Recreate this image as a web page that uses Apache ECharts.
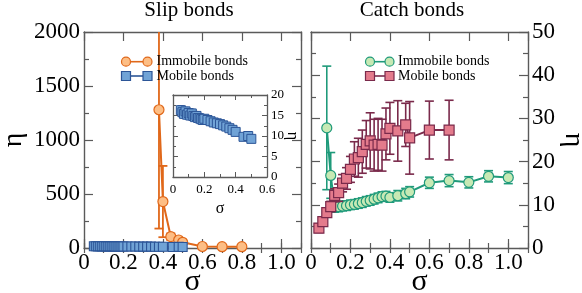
<!DOCTYPE html>
<html><head><meta charset="utf-8">
<script src="https://cdn.jsdelivr.net/npm/echarts@6/dist/echarts.min.js"></script>
<style>html,body{margin:0;padding:0;background:#fff}#c{width:582px;height:293px}</style>
</head><body><div id="c"></div>
<script>
// ---- data ----
const slipImmobileX = [0.38, 0.40, 0.44, 0.48, 0.50, 0.60, 0.70, 0.80];
const slipImmobileY = [1280, 430, 105, 74, 53, 14, 12, 12];
const slipImmobileErr = [1100, 330, 30, 15, 10, 8, 6, 6];

const slipMobileX = [0.05,0.06,0.07,0.08,0.09,0.10,0.11,0.12,0.13,0.14,0.15,0.16,0.17,0.18,0.19,0.20,0.22,0.24,0.26,0.28,0.30,0.32,0.34,0.36,0.38,0.40,0.45,0.48,0.50];
const slipMobileY = [16.3,15.8,15.4,16.0,15.2,15.6,15.0,15.5,14.9,14.6,14.9,14.4,14.3,14.1,13.9,14.2,13.9,13.6,13.3,13.1,12.9,12.6,12.3,11.9,11.5,11.0,9.8,10.0,9.3];
const slipMobileErr = [1.1,1.0,1.0,1.0,1.0,1.0,1.0,1.0,1.0,1.0,1.0,0.9,0.9,0.9,0.9,0.9,0.9,0.9,0.8,0.8,0.8,0.8,0.8,0.8,0.8,0.8,0.7,0.7,0.7];

const catchImmobileX = [0.08,0.10,0.12,0.14,0.16,0.18,0.20,0.22,0.24,0.26,0.28,0.30,0.32,0.34,0.36,0.38,0.40,0.44,0.48,0.50,0.60,0.70,0.80,0.90,1.00];
const catchImmobileY = [27.8,16.8,9.5,9.6,9.7,9.8,10.0,10.1,10.3,10.5,10.8,11.0,11.3,11.6,11.9,12.0,11.7,12.1,12.6,13.0,15.1,15.6,15.2,16.6,16.3];
const catchImmobileErr = [14.3,5.3,1.2,1.2,1.1,1.1,1.1,1.1,1.1,1.1,1.1,1.1,1.1,1.1,1.1,1.1,1.1,1.2,1.2,1.2,1.3,1.4,1.3,1.3,1.4];

const catchMobileX = [0.04,0.06,0.08,0.10,0.12,0.14,0.16,0.18,0.20,0.22,0.24,0.26,0.28,0.30,0.32,0.34,0.36,0.38,0.40,0.44,0.48,0.50,0.60,0.70];
const catchMobileY = [4.6,6.1,8.2,9.6,12.2,12.8,15.0,16.1,18.2,20.6,20.9,22.3,24.0,24.8,23.8,24.0,23.8,26.4,27.7,27.1,28.5,25.5,27.3,27.3];
const catchMobileErr = [1.0,1.0,1.0,1.2,1.5,2.0,2.0,2.5,3.0,4.0,4.5,5.0,5.5,6.5,6.0,6.0,6.0,6.0,6.0,7.0,5.0,8.4,6.7,6.9];

// ---- styles ----
const FONT = 'Liberation Serif';
const FR = '#5a5a5a';
const ORL = '#e0681a', ORF = '#fdbe85';
const BLL = '#2c5597', BLF = '#70a3d6';
const GRL = '#1f9a7a', GRF = '#c7e9b4';
const PKL = '#7a2a4b', PKF = '#e47b8c';

function pairs(x, y) { return x.map((v, i) => [v, y[i]]); }
function errs(x, y, e) { return x.map((v, i) => [v, y[i] - e[i], y[i] + e[i]]); }

function errRender(color, capW, lw) {
  return function (params, api) {
    const x = api.value(0), lo = api.value(1), hi = api.value(2);
    const pLo = api.coord([x, lo]), pHi = api.coord([x, hi]);
    const cs = params.coordSys;
    const top = Math.max(pHi[1], cs.y), bot = Math.min(pLo[1], cs.y + cs.height);
    const ch = [{ type: 'line', shape: { x1: pLo[0], y1: bot, x2: pLo[0], y2: top }, style: { stroke: color, lineWidth: lw } }];
    if (pHi[1] >= cs.y) ch.push({ type: 'line', shape: { x1: pHi[0] - capW / 2, y1: pHi[1], x2: pHi[0] + capW / 2, y2: pHi[1] }, style: { stroke: color, lineWidth: lw } });
    if (pLo[1] <= cs.y + cs.height) ch.push({ type: 'line', shape: { x1: pLo[0] - capW / 2, y1: pLo[1], x2: pLo[0] + capW / 2, y2: pLo[1] }, style: { stroke: color, lineWidth: lw } });
    return { type: 'group', children: ch };
  };
}

function fmtX(v) {
  if (Math.abs(v / 0.2 - Math.round(v / 0.2)) > 1e-6) return '';
  return v === 0 ? '0' : v.toFixed(1);
}

function xMajor(grid, pos, labels) {
  return {
    type: 'value', gridIndex: grid, position: pos, min: 0, max: 1.1, interval: 0.2,
    axisLine: { show: true, onZero: false, lineStyle: { color: FR, width: 1.4 } },
    axisTick: { show: true, inside: true, length: 9, lineStyle: { color: FR, width: 1.2 } },
    minorTick: { show: false },
    splitLine: { show: false },
    axisLabel: { show: labels, formatter: fmtX, color: '#000', fontFamily: FONT, fontSize: 23, margin: 3, showMaxLabel: false },
    name: labels ? 'σ' : '', nameLocation: 'middle', nameGap: 19, nameMoveOverlap: false,
    nameTextStyle: { color: '#000', fontFamily: FONT, fontSize: 30 }
  };
}
function xMinor(grid, pos) {
  return {
    type: 'value', gridIndex: grid, position: pos, min: 0, max: 1.1, interval: 0.1,
    axisLine: { show: false }, axisLabel: { show: false }, splitLine: { show: false },
    axisTick: { show: true, inside: true, length: 5, lineStyle: { color: FR, width: 1.2 } }
  };
}
function yAx(grid, pos, min, max, interval, labels, fs, name, nameGap, nameRot, z, noMove) {
  const big = fs > 15;
  const o = {
    type: 'value', gridIndex: grid, position: pos, min: min, max: max, interval: interval, z: z || 0,
    axisLine: { show: true, onZero: false, lineStyle: { color: FR, width: big ? 1.4 : 1.3 } },
    axisTick: { show: true, inside: true, length: big ? 9 : 5, lineStyle: { color: FR, width: big ? 1.2 : 1 } },
    minorTick: { show: true, splitNumber: 2, length: big ? 5 : 3, lineStyle: { color: FR, width: big ? 1.2 : 1 } },
    splitLine: { show: false },
    axisLabel: { show: labels, color: '#000', fontFamily: FONT, fontSize: fs, margin: 4, formatter: v => String(v) },
    name: labels ? name : '', nameLocation: 'middle', nameGap: nameGap, nameRotate: nameRot,
    nameTextStyle: { color: '#000', fontFamily: FONT, fontSize: big ? 28 : 16 }
  };
  if (noMove) o.nameMoveOverlap = false;
  return o;
}

const insetX = (pos, labels) => ({
  type: 'value', gridIndex: 2, position: pos, min: 0, max: 0.6, interval: 0.2, z: 4,
  axisLine: { show: true, onZero: false, lineStyle: { color: FR, width: 1.3 } },
  axisTick: { show: true, inside: true, length: 5, lineStyle: { color: FR, width: 1 } },
  minorTick: { show: true, splitNumber: 2, length: 3, lineStyle: { color: FR, width: 1 } },
  splitLine: { show: false },
  axisLabel: { show: labels, color: '#000', fontFamily: FONT, fontSize: 13, margin: 6, formatter: v => v === 0 ? '0' : v.toFixed(1) },
  name: labels ? 'σ' : '', nameLocation: 'middle', nameGap: 24,
  nameTextStyle: { color: '#000', fontFamily: FONT, fontSize: 16 }
});

const chart = echarts.init(document.getElementById('c'), null, { renderer: 'canvas' });

function legend(x1, x2, y, sym, line, fill, text, tx) {
  const mk = (x) => sym === 'circle'
    ? { type: 'circle', shape: { cx: x, cy: y, r: 4.5 }, style: { fill: fill, stroke: line, lineWidth: 1.2 } }
    : { type: 'rect', shape: { x: x - 4.5, y: y - 4.5, width: 9, height: 9 }, style: { fill: fill, stroke: line, lineWidth: 1.2 } };
  return [
    { type: 'line', shape: { x1: x1, y1: y, x2: x2, y2: y }, style: { stroke: line, lineWidth: 1.6 }, z: 20 },
    Object.assign(mk(x1), { z: 21 }), Object.assign(mk(x2), { z: 21 }),
    { type: 'text', x: tx, y: y, style: { text: text, fill: '#000', font: '14px "Liberation Serif"', verticalAlign: 'middle' }, z: 21 }
  ];
}

const gridBase = { containLabel: false, outerBoundsMode: 'none' };
chart.setOption({
  animation: false,
  backgroundColor: '#fff',
  title: [
    { text: 'Slip bonds', left: 189, top: 0, textAlign: 'center', padding: 0, textStyle: { fontFamily: FONT, fontSize: 21, fontWeight: 'normal', color: '#000' } },
    { text: 'Catch bonds', left: 412, top: 0, textAlign: 'center', padding: 0, textStyle: { fontFamily: FONT, fontSize: 21, fontWeight: 'normal', color: '#000' } }
  ],
  grid: [
    Object.assign({ left: 84, top: 32, width: 217, height: 216 }, gridBase),
    Object.assign({ left: 311, top: 32, width: 217, height: 216 }, gridBase),
    Object.assign({ left: 173, top: 95, width: 94, height: 82, show: true, backgroundColor: '#fff', borderWidth: 0, z: 3 }, gridBase)
  ],
  xAxis: [
    xMajor(0, 'bottom', true), xMinor(0, 'bottom'), xMajor(0, 'top', false), xMinor(0, 'top'),
    xMajor(1, 'bottom', true), xMinor(1, 'bottom'), xMajor(1, 'top', false), xMinor(1, 'top'),
    insetX('bottom', true), insetX('top', false)
  ],
  yAxis: [
    yAx(0, 'left', 0, 2000, 500, true, 23, 'η', 56, 90),
    yAx(0, 'right', 0, 2000, 500, false, 23, '', 0, 0),
    yAx(1, 'right', 0, 50, 10, true, 23, 'η', 31, -90),
    yAx(1, 'left', 0, 50, 10, false, 23, '', 0, 0),
    yAx(2, 'right', 0, 20, 5, true, 13, 'η', 17, -90, 4, true),
    yAx(2, 'left', 0, 20, 5, false, 13, '', 0, 0, 4)
  ],
  series: [
    { type: 'custom', xAxisIndex: 0, yAxisIndex: 0, renderItem: errRender(ORL, 9, 1.8), data: errs(slipImmobileX, slipImmobileY, slipImmobileErr), encode: { x: 0, y: [1, 2] }, z: 2 },
    { type: 'line', xAxisIndex: 0, yAxisIndex: 0, data: pairs(slipImmobileX, slipImmobileY), symbol: 'circle', symbolSize: 10,
      lineStyle: { color: ORL, width: 2 }, itemStyle: { color: ORF, borderColor: ORL, borderWidth: 1.2 }, z: 3 },
    { type: 'line', xAxisIndex: 0, yAxisIndex: 0, data: pairs(slipMobileX, slipMobileY), symbol: 'rect', symbolSize: 9,
      lineStyle: { color: BLL, width: 1.5 }, itemStyle: { color: BLF, borderColor: BLL, borderWidth: 1.1 }, z: 4 },

    { type: 'custom', xAxisIndex: 4, yAxisIndex: 2, renderItem: errRender(GRL, 9, 1.6), data: errs(catchImmobileX, catchImmobileY, catchImmobileErr), encode: { x: 0, y: [1, 2] }, z: 2 },
    { type: 'line', xAxisIndex: 4, yAxisIndex: 2, data: pairs(catchImmobileX, catchImmobileY), symbol: 'circle', symbolSize: 10,
      lineStyle: { color: GRL, width: 2 }, itemStyle: { color: GRF, borderColor: GRL, borderWidth: 1.2 }, z: 3 },
    { type: 'custom', xAxisIndex: 4, yAxisIndex: 2, renderItem: errRender(PKL, 9, 1.6), data: errs(catchMobileX, catchMobileY, catchMobileErr), encode: { x: 0, y: [1, 2] }, z: 4 },
    { type: 'line', xAxisIndex: 4, yAxisIndex: 2, data: pairs(catchMobileX, catchMobileY), symbol: 'rect', symbolSize: 10,
      lineStyle: { color: PKL, width: 2 }, itemStyle: { color: PKF, borderColor: PKL, borderWidth: 1.2 }, z: 5 },

    { type: 'custom', xAxisIndex: 8, yAxisIndex: 4, renderItem: errRender(BLL, 6, 1.2), data: errs(slipMobileX, slipMobileY, slipMobileErr), encode: { x: 0, y: [1, 2] }, z: 6 },
    { type: 'line', xAxisIndex: 8, yAxisIndex: 4, data: pairs(slipMobileX, slipMobileY), symbol: 'rect', symbolSize: 9,
      lineStyle: { color: BLL, width: 1.2 }, itemStyle: { color: BLF, borderColor: BLL, borderWidth: 1 }, z: 7 }
  ],
  graphic: [].concat(
    legend(126, 147.5, 61.7, 'circle', ORL, ORF, 'Immobile bonds', 156.5),
    legend(126, 147.5, 76, 'rect', BLL, BLF, 'Mobile bonds', 156.5),
    legend(370, 389.5, 61.7, 'circle', GRL, GRF, 'Immobile bonds', 398),
    legend(370, 389.5, 76, 'rect', PKL, PKF, 'Mobile bonds', 398)
  )
});
</script>
</body></html>
